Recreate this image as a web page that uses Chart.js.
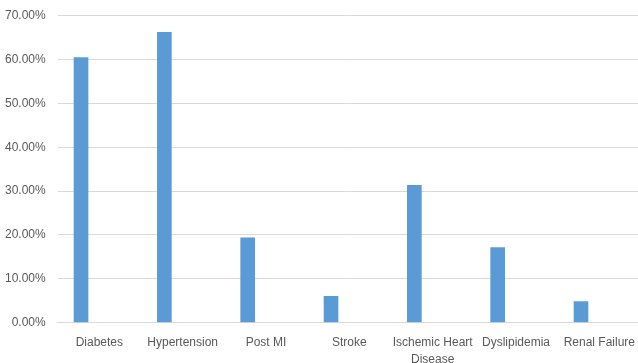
<!DOCTYPE html>
<html>
<head>
<meta charset="utf-8">
<script src="https://cdn.jsdelivr.net/npm/chart.js@4/dist/chart.umd.min.js"></script>
<style>
  html, body { margin: 0; padding: 0; background: #ffffff; overflow: hidden; }
  #wrap { position: relative; width: 641px; height: 363px; }
</style>
</head>
<body>
<div id="wrap"><canvas id="chart"></canvas></div>
<script>
// Comorbidity prevalence among patients (percent)
const categories = ['Diabetes', 'Hypertension', 'Post MI', 'Stroke', ['Ischemic Heart', 'Disease'], 'Dyslipidemia', 'Renal Failure'];
const prevalence = [60.5, 66.3, 19.4, 6.1, 31.4, 17.2, 4.9];
// second (empty) series slot in each group
const emptySeries = [null, null, null, null, null, null, null];
const yTicks = [0, 10, 20, 30, 40, 50, 60, 70];

const textColor = '#595959';
const gridColor = '#d9d9d9';
const fontFamily = "'Liberation Sans', Arial, sans-serif";

new Chart(document.getElementById('chart'), {
  type: 'bar',
  data: {
    labels: categories,
    datasets: [
      {
        label: 'Prevalence',
        data: prevalence,
        backgroundColor: '#5b9bd5',
        borderWidth: 0,
        categoryPercentage: 0.88,
        barPercentage: 0.4
      },
      {
        label: '',
        data: emptySeries,
        backgroundColor: 'rgba(0,0,0,0)',
        borderWidth: 0,
        categoryPercentage: 0.88,
        barPercentage: 0.4
      }
    ]
  },
  options: {
    responsive: true,
    animation: false,
    maintainAspectRatio: false,
    devicePixelRatio: 1,
    layout: { padding: 0 },
    plugins: {
      legend: { display: false },
      tooltip: { enabled: false }
    },
    scales: {
      x: {
        grid: { display: false, drawTicks: false },
        border: { display: true, color: gridColor, width: 1 },
        ticks: {
          color: textColor,
          font: { family: fontFamily, size: 12, lineHeight: 1.42 },
          padding: 11,
          maxRotation: 0,
          autoSkip: false
        },
        afterFit: (scale) => {
          scale.height = 40.3;
          scale.paddingLeft = 0;
          scale.paddingRight = 0;
        }
      },
      y: {
        min: 0,
        max: 70,
        afterBuildTicks: (scale) => { scale.ticks = yTicks.map(v => ({ value: v })); },
        grid: { color: gridColor, lineWidth: 1, drawTicks: false },
        border: { display: false },
        ticks: {
          color: textColor,
          font: { family: fontFamily, size: 12 },
          padding: 12,
          callback: (v) => v.toFixed(2) + '%'
        },
        afterFit: (scale) => {
          scale.width = 57.7;
          scale.paddingTop = 15.7;
          scale.paddingBottom = 0;
        }
      }
    }
  }
});
</script>
</body>
</html>
